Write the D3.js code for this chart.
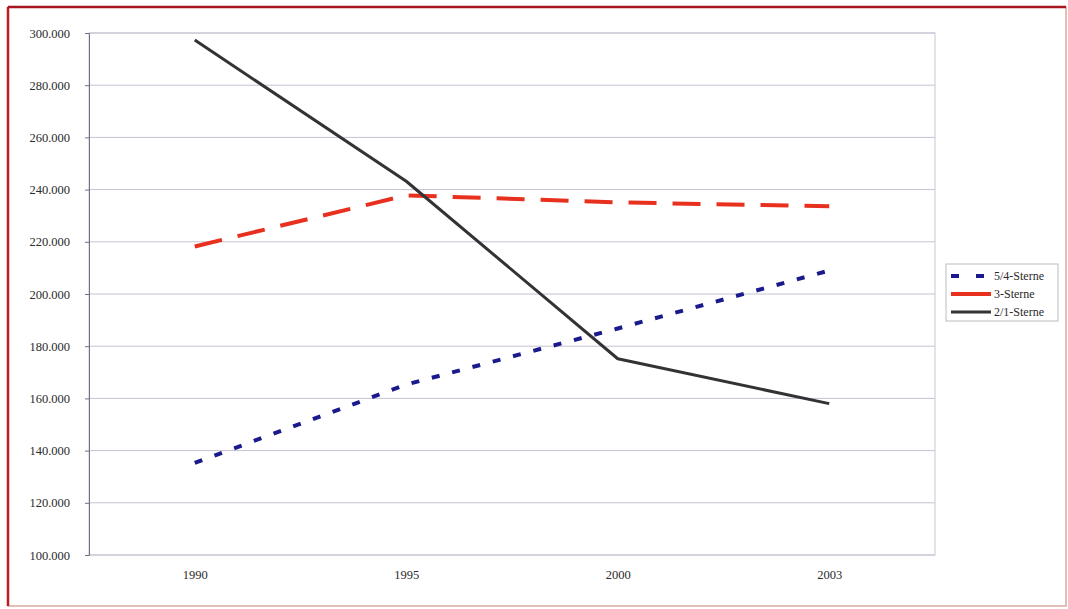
<!DOCTYPE html>
<html>
<head>
<meta charset="utf-8">
<script src="https://cdn.jsdelivr.net/npm/d3@7"></script>
<style>
  html, body { margin: 0; padding: 0; background: #fff; }
  svg { display: block; }
  svg text { font-family: "Liberation Serif", "DejaVu Serif", "Times New Roman", serif !important; fill: #2a2a2a; }
</style>
</head>
<body>
<svg id="chart" width="1068" height="609"></svg>
<script>
// Übernachtungskapazität nach Hotelkategorie
const years = ["1990", "1995", "2000", "2003"];
const sterne54 = [135300, 165300, 186800, 209000];
const sterne3 = [218200, 237800, 235100, 233600];
const sterne21 = [297300, 243200, 175200, 158000];
const seriesNames = ["5/4-Sterne", "3-Sterne", "2/1-Sterne"];
const yTicks = [100000, 120000, 140000, 160000, 180000, 200000, 220000, 240000, 260000, 280000, 300000];

const series = [
  { name: seriesNames[0], values: sterne54, color: "#1a1a8c", width: 4, dash: "8,13", legendDash: "8,17" },
  { name: seriesNames[1], values: sterne3, color: "#e8301e", width: 4, dash: "28,16", legendDash: null },
  { name: seriesNames[2], values: sterne21, color: "#333336", width: 3, dash: null, legendDash: null }
];

const serif = "'Liberation Serif', 'DejaVu Serif', serif";
const svg = d3.select("#chart");
const plot = { left: 89, right: 935, top: 33, bottom: 555 };

// Outer frame
svg.append("rect")
  .attr("x", 8).attr("y", 7).attr("width", 1058).attr("height", 599)
  .attr("fill", "none").attr("stroke", "#dca8a0").attr("stroke-width", 1.5);
svg.append("line").attr("x1", 8).attr("x2", 1066).attr("y1", 7).attr("y2", 7)
  .attr("stroke", "#a8141e").attr("stroke-width", 2.5);
svg.append("line").attr("x1", 8).attr("x2", 8).attr("y1", 7).attr("y2", 606)
  .attr("stroke", "#c01a22").attr("stroke-width", 2.5);

const x = d3.scalePoint().domain(years).range([plot.left, plot.right]).padding(0.5);
const y = d3.scaleLinear().domain([100000, 300000]).range([plot.bottom, plot.top]);

// Plot area border
svg.append("rect")
  .attr("x", plot.left).attr("y", plot.top)
  .attr("width", plot.right - plot.left).attr("height", plot.bottom - plot.top)
  .attr("fill", "none").attr("stroke", "#c8c8d0").attr("stroke-width", 1);

// Gridlines
svg.append("g").selectAll("line").data(yTicks).join("line")
  .attr("x1", plot.left).attr("x2", plot.right)
  .attr("y1", d => y(d)).attr("y2", d => y(d))
  .attr("stroke", "#c4c2d4").attr("stroke-width", 1);

// Y axis
const fmt = d => d3.format(",")(d).replace(/,/g, ".");
const yAxis = d3.axisLeft(y).tickValues(yTicks).tickFormat(fmt).tickSize(4).tickPadding(15);
const gy = svg.append("g").attr("transform", `translate(${plot.left},0)`).call(yAxis)
  .attr("font-family", null).attr("font-size", null);
gy.select(".domain").attr("stroke", "#707080");
gy.selectAll(".tick line").attr("stroke", "#707080");
gy.selectAll("text").style("font-family", serif).style("font-size", "12.5px");

// X axis labels
const xAxis = d3.axisBottom(x).tickSize(0).tickPadding(15);
const gx = svg.append("g").attr("transform", `translate(0,${plot.bottom})`).call(xAxis)
  .attr("font-family", null).attr("font-size", null);
gx.select(".domain").remove();
gx.selectAll("text").style("font-family", serif).style("font-size", "12.5px");

// Lines
const line = d3.line().x((d, i) => x(years[i])).y(d => y(d));
svg.append("g").selectAll("path").data(series).join("path")
  .attr("d", d => line(d.values))
  .attr("fill", "none")
  .attr("stroke", d => d.color)
  .attr("stroke-width", d => d.width)
  .attr("stroke-dasharray", d => d.dash)
  .attr("stroke-linejoin", "round");

// Legend
const lg = svg.append("g").attr("transform", "translate(946,264)");
lg.append("rect").attr("width", 112).attr("height", 57)
  .attr("fill", "#fff").attr("stroke", "#bbb").attr("stroke-width", 1);
const items = lg.selectAll("g").data(series).join("g")
  .attr("transform", (d, i) => `translate(0,${12 + i * 18})`);
items.append("line")
  .attr("x1", 5).attr("x2", 45).attr("y1", 0).attr("y2", 0)
  .attr("stroke", d => d.color).attr("stroke-width", d => d.width)
  .attr("stroke-dasharray", d => d.legendDash);
items.append("text")
  .attr("x", 48).attr("y", 4)
  .style("font-family", serif).style("font-size", "12px")
  .text(d => d.name);
</script>
</body>
</html>
